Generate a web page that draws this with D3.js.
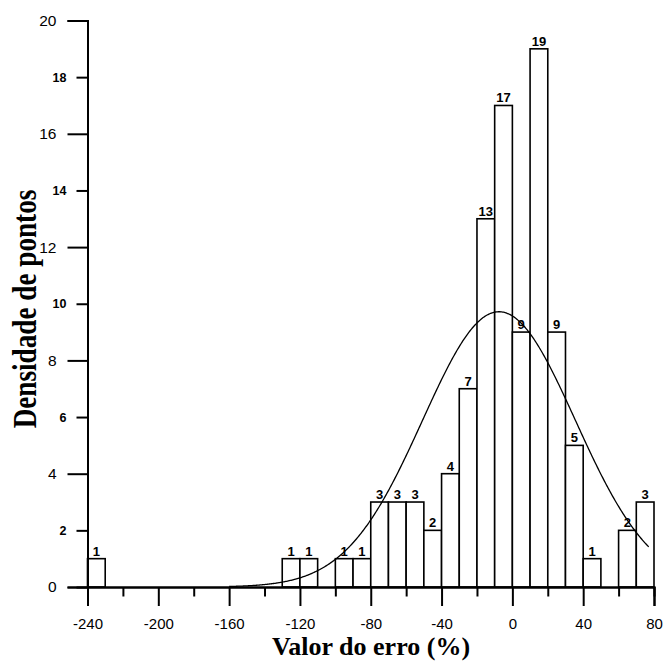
<!DOCTYPE html>
<html>
<head>
<meta charset="utf-8">
<script src="https://cdn.jsdelivr.net/npm/d3@7"></script>
<style>
  html, body { margin: 0; padding: 0; background: #fff; }
  svg { display: block; }
  .tick text { font-family: "Liberation Sans", Arial, sans-serif; fill: #000; }
</style>
</head>
<body>
<script>
// Histogram of error values: lower edge of each 10-wide bin and its count
const binLow = [-240, -130, -120, -100, -90, -80, -70, -60, -50, -40, -30, -20, -10, 0, 10, 20, 30, 40, 60, 70];
const counts = [1, 1, 1, 1, 1, 3, 3, 3, 2, 4, 7, 13, 17, 9, 19, 9, 5, 1, 2, 3];
const binWidth = 10;

const xMajorTicks = [-240, -200, -160, -120, -80, -40, 0, 40, 80];
const xMinorTicks = [-220, -180, -140, -100, -60, -20, 20, 60];
const yMajorTicks = [0, 4, 8, 12, 16, 20];
const yMinorTicks = [2, 6, 10, 14, 18];

const xTitle = "Valor do erro (%)";
const yTitle = "Densidade de pontos";

const W = 664, H = 662;
const svg = d3.select("body").append("svg").attr("width", W).attr("height", H);

const x = d3.scaleLinear().domain([-240, 80]).range([87.5, 654]);
const y = d3.scaleLinear().domain([0, 20]).range([587, 20.5]);

// plain hyphen-minus labels
const plain = d => String(d);

const bins = binLow.map((lo, i) => ({ lo, hi: lo + binWidth, n: counts[i] }));

// Bars
svg.append("g").selectAll("rect").data(bins).join("rect")
  .attr("x", d => x(d.lo))
  .attr("y", d => y(d.n))
  .attr("width", d => x(d.hi) - x(d.lo))
  .attr("height", d => y(0) - y(d.n))
  .attr("fill", "#fff")
  .attr("stroke", "#000")
  .attr("stroke-width", 1.6);

// Count labels on top of bars
svg.append("g").selectAll("text").data(bins).join("text")
  .attr("x", d => (x(d.lo) + x(d.hi)) / 2)
  .attr("y", d => y(d.n) - 3)
  .attr("text-anchor", "middle")
  .attr("font-family", "Liberation Sans, Arial, sans-serif")
  .attr("font-weight", "bold")
  .attr("font-size", 13)
  .text(d => d.n);

// Fitted normal curve from the binned data (scaled to counts per bin)
const total = d3.sum(counts);
const mids = binLow.map(lo => lo + binWidth / 2);
const mean = d3.sum(mids.map((m, i) => m * counts[i])) / total;
const variance = d3.sum(mids.map((m, i) => (m - mean) ** 2 * counts[i])) / (total - 1);
const sd = Math.sqrt(variance);
const density = v => total * binWidth / (sd * Math.sqrt(2 * Math.PI)) * Math.exp(-((v - mean) ** 2) / (2 * variance));
const curveX = d3.range(-160, 77.01, 0.5);
svg.append("path")
  .datum(curveX)
  .attr("fill", "none")
  .attr("stroke", "#000")
  .attr("stroke-width", 1.3)
  .attr("d", d3.line().x(v => x(v)).y(v => y(density(v))).curve(d3.curveBasis));

// X axis: long major ticks with labels, short minor ticks
const xMaj = svg.append("g").attr("transform", `translate(0,${y(0)})`)
  .call(d3.axisBottom(x).tickValues(xMajorTicks).tickSize(19).tickPadding(12).tickFormat(plain));
xMaj.selectAll(".tick text").attr("font-size", 15);
svg.append("g").attr("transform", `translate(0,${y(0)})`)
  .call(d3.axisBottom(x).tickValues(xMinorTicks).tickSize(9.5).tickFormat(""));

// Y axis: long major ticks with larger labels, short minor ticks with smaller labels
const yMaj = svg.append("g").attr("transform", `translate(${x(-240)},0)`)
  .call(d3.axisLeft(y).tickValues(yMajorTicks).tickSize(20).tickPadding(11).tickFormat(plain));
yMaj.selectAll(".tick text").attr("font-size", 15.5);
const yMin = svg.append("g").attr("transform", `translate(${x(-240)},0)`)
  .call(d3.axisLeft(y).tickValues(yMinorTicks).tickSize(11).tickPadding(10).tickFormat(plain));
yMin.selectAll(".tick text").attr("font-size", 12.5).attr("font-weight", "bold");

svg.selectAll(".domain").attr("stroke", "#000").attr("stroke-width", 2);
svg.selectAll(".tick line").attr("stroke", "#000").attr("stroke-width", 2);

// Axis titles
svg.append("text")
  .attr("x", 371).attr("y", 655)
  .attr("text-anchor", "middle")
  .attr("font-family", "Liberation Serif, 'Times New Roman', serif")
  .attr("font-weight", "bold")
  .attr("font-size", 26)
  .text(xTitle);

svg.append("text")
  .attr("transform", "translate(36,309) rotate(-90) scale(0.8,1)")
  .attr("text-anchor", "middle")
  .attr("font-family", "Liberation Serif, 'Times New Roman', serif")
  .attr("font-weight", "bold")
  .attr("font-size", 34)
  .text(yTitle);
</script>
</body>
</html>
